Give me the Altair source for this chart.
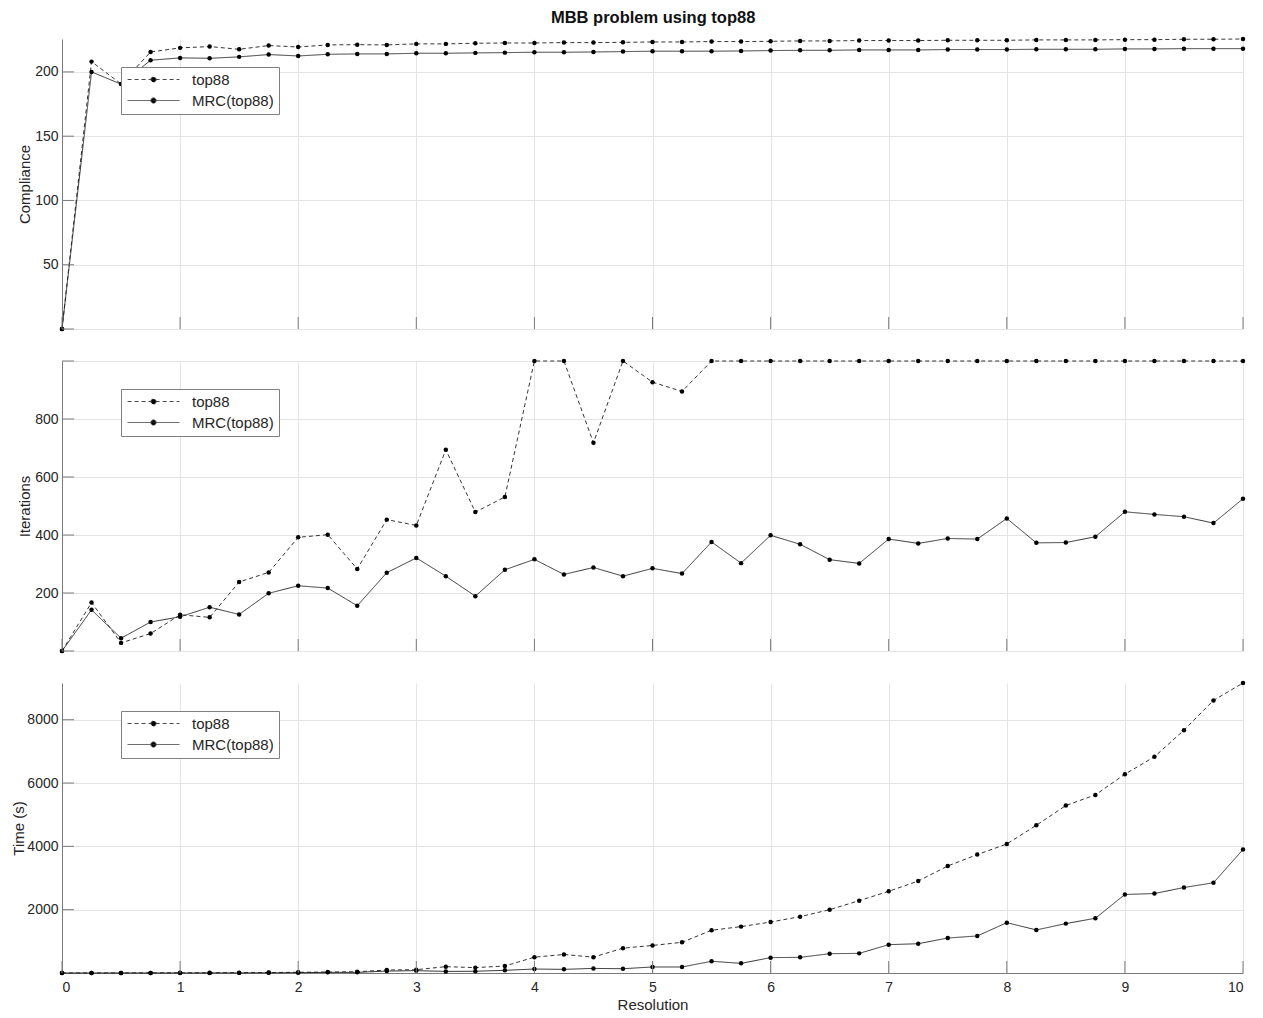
import altair as alt
import pandas as pd

resolution = [0, 0.25, 0.5, 0.75, 1, 1.25, 1.5, 1.75, 2, 2.25, 2.5, 2.75, 3, 3.25, 3.5, 3.75,
              4, 4.25, 4.5, 4.75, 5, 5.25, 5.5, 5.75, 6, 6.25, 6.5, 6.75, 7, 7.25, 7.5, 7.75,
              8, 8.25, 8.5, 8.75, 9, 9.25, 9.5, 9.75, 10]

series_names = ["top88", "MRC(top88)"]

compliance_top88 = [0, 208.0, 190.7, 215.5, 218.7, 219.7, 217.6, 220.5, 219.4, 221.0, 221.2,
                    221.0, 221.8, 221.8, 222.3, 222.5, 222.5, 222.8, 222.8, 223.0, 223.3, 223.3,
                    223.6, 223.6, 223.8, 224.1, 224.1, 224.4, 224.4, 224.4, 224.6, 224.6, 224.6,
                    224.9, 224.9, 224.9, 225.1, 225.1, 225.4, 225.4, 225.6]
compliance_mrc = [0, 200.0, 190.5, 209.1, 210.9, 210.6, 211.7, 213.5, 212.4, 213.7, 214.0,
                  214.0, 214.5, 214.5, 214.8, 215.0, 215.3, 215.3, 215.5, 215.8, 216.1, 216.1,
                  216.1, 216.3, 216.6, 216.8, 216.8, 217.1, 217.1, 217.1, 217.4, 217.4, 217.4,
                  217.6, 217.6, 217.6, 217.9, 217.9, 218.1, 218.1, 218.1]

iterations_top88 = [0, 167, 28, 60, 125, 116, 238, 271, 392, 401, 283, 453, 433, 694, 479, 531,
                    1000, 1000, 718, 1000, 927, 895, 1000, 1000, 1000, 1000, 1000, 1000, 1000,
                    1000, 1000, 1000, 1000, 1000, 1000, 1000, 1000, 1000, 1000, 1000, 1000]
iterations_mrc = [0, 142, 44, 100, 118, 151, 126, 199, 225, 217, 156, 270, 321, 258, 189, 280,
                  316, 264, 288, 258, 285, 267, 376, 303, 399, 368, 315, 302, 386, 371, 388, 386,
                  457, 373, 374, 394, 480, 471, 463, 441, 525]

time_top88 = [0.5, 1, 2, 3, 5, 7, 10, 15, 22, 30, 40, 95, 105, 200, 170, 220, 500, 585, 500, 785,
              870, 970, 1350, 1465, 1610, 1780, 2000, 2285, 2580, 2905, 3380, 3740, 4075, 4665,
              5290, 5625, 6280, 6830, 7670, 8610, 9160]
time_mrc = [0.3, 0.6, 1, 1.5, 2, 3, 4, 6, 10, 20, 20, 60, 75, 50, 55, 85, 125, 115, 145, 135,
            190, 190, 370, 305, 485, 495, 610, 620, 895, 925, 1105, 1170, 1590, 1360, 1560, 1730,
            2480, 2510, 2700, 2850, 3900]

x_ticks = [0, 1, 2, 3, 4, 5, 6, 7, 8, 9, 10]
compliance_ticks = [0, 50, 100, 150, 200]
iterations_ticks = [0, 200, 400, 600, 800, 1000]
time_ticks = [2000, 4000, 6000, 8000]

W, H = 1181, 290
FONT = "Liberation Sans"
TXT = "#262626"
GRID = "#e4e4e4"
AXC = "#7a7a7a"
# legend glyph: a horizontal line with a dot in the middle (scaled by sqrt(size)/2 = 7)
SYMBOL = ("M-3.7,0L3.7,0M0.37,0A0.37,0.37,0,1,1,-0.37,0"
          "A0.37,0.37,0,1,1,0.37,0Z")


def long_df(a, b):
    return pd.DataFrame({
        "Resolution": resolution * 2,
        "value": a + b,
        "series": [series_names[0]] * len(a) + [series_names[1]] * len(b),
    })


def panel(df, ytitle, ymax, yticks, ylabels, bottom, title_x):
    xscale = alt.Scale(domain=[0, 10], nice=False, zero=False)
    yscale = alt.Scale(domain=[0, ymax], nice=False, zero=False)
    x_axis = alt.Axis(
        values=x_ticks, grid=True, gridColor=GRID, gridWidth=1, ticks=False, tickSize=0,
        labels=bottom, labelFont=FONT, labelFontSize=14, labelColor=TXT, labelPadding=7,
        domainColor=AXC if bottom else GRID, domainWidth=1,
        title="Resolution" if bottom else "", titleFont=FONT, titleFontSize=15,
        titleFontWeight="normal", titleColor=TXT, titlePadding=3,
    )
    y_axis = alt.Axis(
        values=yticks, grid=True, gridColor=GRID, gridWidth=1, ticks=False, tickSize=0,
        format="d",
        labelExpr="indexof(" + str(ylabels) + ", datum.value) >= 0 ? datum.label : ''",
        labelFont=FONT, labelFontSize=14, labelColor=TXT, labelPadding=4,
        domainColor=AXC, domainWidth=1,
        title=ytitle, titleFont=FONT, titleFontSize=15, titleFontWeight="normal",
        titleColor=TXT, titleX=title_x, titleY=H / 2, titleAngle=-90, titleAlign="center",
        titleBaseline="middle",
    )
    base = alt.Chart(df)
    lines = base.mark_line(strokeWidth=0.9, color="#1e1e1e").encode(
        x=alt.X("Resolution:Q", scale=xscale, axis=x_axis),
        y=alt.Y("value:Q", scale=yscale, axis=y_axis),
        strokeDash=alt.StrokeDash(
            "series:N",
            scale=alt.Scale(domain=series_names, range=[[4, 3], [1, 0]]),
            legend=alt.Legend(
                orient="none", legendX=59, legendY=28, title=None,
                symbolType=SYMBOL, symbolSize=196, symbolStrokeWidth=0.9,
                symbolStrokeColor="#333", symbolFillColor="black", symbolOffset=20,
                labelFont=FONT, labelFontSize=15, labelColor=TXT, labelOffset=31,
                fillColor="white", strokeColor="#808080", padding=5, rowPadding=5,
                cornerRadius=0, offset=0,
            ),
        ),
        detail="series:N",
    )
    points = base.mark_circle(size=20, color="black", opacity=1).encode(
        x=alt.X("Resolution:Q", scale=xscale, axis=x_axis),
        y=alt.Y("value:Q", scale=yscale, axis=y_axis),
        detail="series:N",
    )
    ytick_df = pd.DataFrame({"tick": yticks})
    yt = alt.Chart(ytick_df).mark_rule(color=AXC, strokeWidth=1).encode(
        y=alt.Y("tick:Q", scale=yscale, axis=y_axis),
        x=alt.value(0), x2=alt.value(12),
    )
    xtick_df = pd.DataFrame({"tick": x_ticks})
    xt = alt.Chart(xtick_df).mark_rule(color=AXC, strokeWidth=1).encode(
        x=alt.X("tick:Q", scale=xscale, axis=x_axis),
        y=alt.value(H), y2=alt.value(H - 12),
    )
    return alt.layer(lines, points, yt, xt).properties(width=W, height=H)


p1 = panel(long_df(compliance_top88, compliance_mrc), "Compliance", 225.6,
           compliance_ticks, [50, 100, 150, 200], False, -38)
p2 = panel(long_df(iterations_top88, iterations_mrc), "Iterations", 1000,
           iterations_ticks, [200, 400, 600, 800], False, -38)
p3 = panel(long_df(time_top88, time_mrc), "Time (s)", 9160,
           time_ticks, [2000, 4000, 6000, 8000], True, -44)

chart = alt.vconcat(p1, p2, p3, spacing=26).resolve_scale(
    strokeDash="independent"
).resolve_legend(
    strokeDash="independent"
).properties(
    title=alt.TitleParams("MBB problem using top88", font=FONT, fontSize=16.5,
                          fontWeight="bold", color="#111", anchor="middle", offset=10,
                          dx=25),
    padding={"left": 3, "top": 2, "right": 0, "bottom": 0},
).configure_view(stroke=None)

chart.save("out.html", embed_options={"renderer": "svg", "actions": False})
